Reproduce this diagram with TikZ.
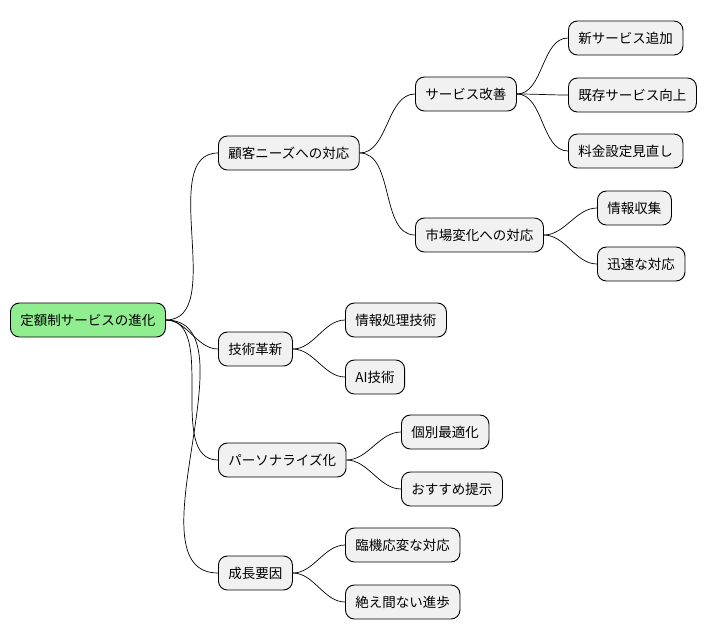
\documentclass[tikz,border=0pt]{standalone}
\usepackage{fontspec}
\newfontfamily\cjk{Noto Sans CJK JP}
\usetikzlibrary{positioning}
\definecolor{rootgreen}{RGB}{144,238,144}
\definecolor{boxgray}{RGB}{241,241,241}
\tikzset{
  topic/.style={draw=black, line width=0.9pt, rounded corners=9pt, fill=boxgray,
    minimum height=34pt, inner xsep=10pt, anchor=west,
    font=\cjk\fontsize{13.5}{16}\selectfont},
  branch/.style={line width=0.7pt, out=0, in=180, looseness=0.9}
}
\begin{document}
\begin{tikzpicture}[x=1pt, y=-1pt]
\useasboundingbox (0,0) rectangle (712,640);

% root
\node[topic, fill=rootgreen] (root) at (10,320) {定額制サービスの進化};

% first level
\node[topic] (needs) at (218,153) {顧客ニーズへの対応};
\node[topic] (tech) at (218,349) {技術革新};
\node[topic] (pers) at (218,460) {パーソナライズ化};
\node[topic] (grow) at (218,573) {成長要因};

% second level
\node[topic] (serv) at (415,94) {サービス改善};
\node[topic] (mark) at (415,235) {市場変化への対応};
\node[topic] (info) at (345,320) {情報処理技術};
\node[topic] (ai) at (345,377) {AI技術};
\node[topic] (indiv) at (401,432) {個別最適化};
\node[topic] (reco) at (401,489) {おすすめ提示};
\node[topic] (flex) at (345,545) {臨機応変な対応};
\node[topic] (prog) at (345,602) {絶え間ない進歩};

% third level
\node[topic] (newsv) at (568,38) {新サービス追加};
\node[topic] (oldsv) at (568,95) {既存サービス向上};
\node[topic] (price) at (568,151) {料金設定見直し};
\node[topic] (coll) at (597,208) {情報収集};
\node[topic] (fast) at (597,264) {迅速な対応};

% connectors
\foreach \a/\b in {root/needs, root/tech, root/pers, root/grow,
  needs/serv, needs/mark, tech/info, tech/ai, pers/indiv, pers/reco,
  grow/flex, grow/prog, serv/newsv, serv/oldsv, serv/price,
  mark/coll, mark/fast}
  \draw[branch] (\a.east) to (\b.west);

\end{tikzpicture}
\end{document}
